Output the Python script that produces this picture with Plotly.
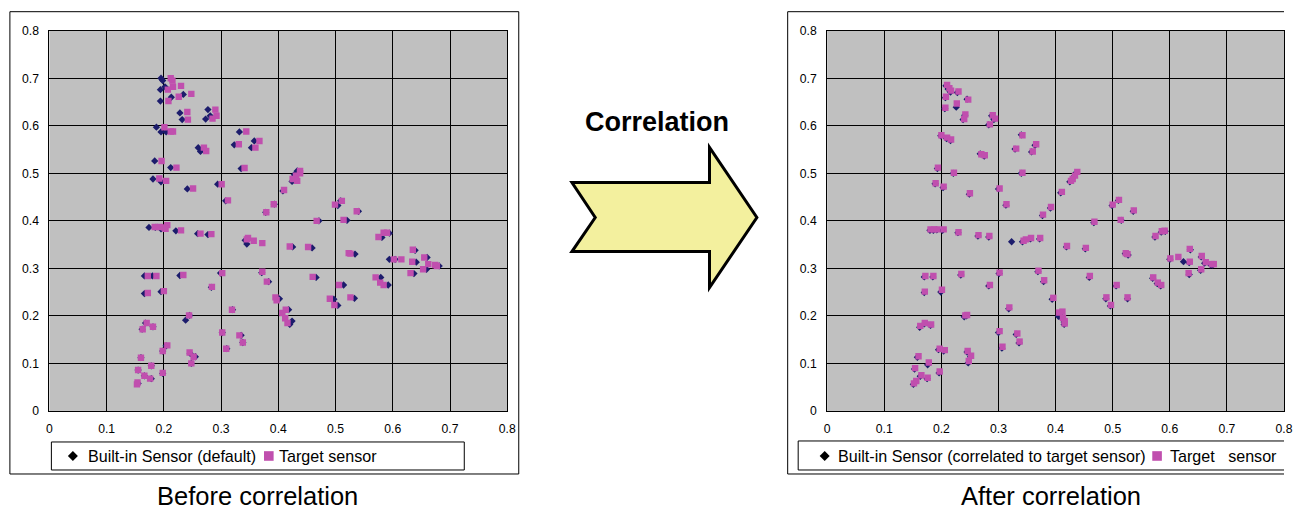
import plotly.graph_objects as go

W, H = 1293, 511

# ---------------- data ----------------
ticks = [0, 0.1, 0.2, 0.3, 0.4, 0.5, 0.6, 0.7, 0.8]
tick_text = ["0", "0.1", "0.2", "0.3", "0.4", "0.5", "0.6", "0.7", "0.8"]

before_target = [
    (0.212,0.700),(0.215,0.695),(0.230,0.684),(0.216,0.682),(0.207,0.676),(0.248,0.667),(0.226,0.661),(0.208,0.652),
    (0.290,0.634),(0.241,0.629),(0.292,0.621),(0.285,0.615),(0.242,0.613),(0.201,0.597),(0.212,0.588),(0.216,0.588),
    (0.344,0.588),(0.367,0.568),(0.331,0.561),(0.360,0.554),(0.270,0.554),(0.274,0.547),(0.196,0.526),(0.341,0.511),
    (0.222,0.512),(0.192,0.489),(0.204,0.484),(0.251,0.468),(0.301,0.477),(0.438,0.505),(0.438,0.500),(0.431,0.495),
    (0.433,0.484),(0.425,0.488),(0.410,0.465),(0.312,0.443),(0.392,0.435),(0.379,0.418),(0.511,0.442),(0.499,0.434),
    (0.537,0.420),(0.467,0.400),(0.514,0.402),(0.184,0.387),(0.193,0.387),(0.201,0.386),(0.206,0.391),(0.203,0.383),
    (0.230,0.380),(0.264,0.373),(0.283,0.372),(0.345,0.361),(0.347,0.364),(0.357,0.358),(0.372,0.353),(0.584,0.375),
    (0.590,0.375),(0.575,0.366),(0.420,0.346),(0.452,0.345),(0.523,0.332),(0.526,0.331),(0.635,0.339),(0.602,0.319),
    (0.615,0.319),(0.655,0.323),(0.634,0.314),(0.662,0.309),(0.674,0.307),(0.677,0.305),(0.653,0.298),(0.631,0.290),
    (0.172,0.284),(0.187,0.284),(0.234,0.286),(0.302,0.290),(0.372,0.293),(0.380,0.272),(0.460,0.282),(0.570,0.281),
    (0.578,0.270),(0.584,0.265),(0.506,0.265),(0.172,0.248),(0.200,0.252),(0.284,0.261),(0.395,0.239),(0.397,0.233),
    (0.490,0.236),(0.526,0.239),(0.498,0.223),(0.319,0.213),(0.413,0.213),(0.407,0.206),(0.412,0.195),(0.416,0.185),
    (0.244,0.201),(0.170,0.185),(0.163,0.172),(0.181,0.177),(0.302,0.165),(0.332,0.159),(0.338,0.144),(0.206,0.138),
    (0.198,0.126),(0.309,0.131),(0.245,0.123),(0.252,0.114),(0.160,0.112),(0.248,0.100),(0.178,0.095),(0.155,0.086),
    (0.198,0.080),(0.166,0.074),(0.176,0.068),(0.154,0.060),(0.153,0.056),
]

before_builtin = [
    (0.195,0.700),(0.198,0.695),(0.202,0.682),(0.194,0.676),(0.234,0.666),(0.213,0.660),(0.194,0.652),(0.228,0.627),
    (0.232,0.613),(0.277,0.634),(0.281,0.621),(0.273,0.614),(0.187,0.597),(0.195,0.587),(0.204,0.587),(0.332,0.587),
    (0.358,0.568),(0.323,0.560),(0.353,0.554),(0.260,0.554),(0.264,0.546),(0.184,0.526),(0.335,0.510),(0.212,0.512),
    (0.181,0.488),(0.195,0.482),(0.241,0.467),(0.294,0.477),(0.433,0.505),(0.428,0.497),(0.424,0.483),(0.408,0.463),
    (0.308,0.442),(0.393,0.435),(0.378,0.418),(0.509,0.442),(0.504,0.432),(0.540,0.420),(0.471,0.400),(0.520,0.401),
    (0.174,0.386),(0.185,0.386),(0.195,0.383),(0.221,0.379),(0.259,0.373),(0.277,0.371),(0.342,0.359),(0.345,0.351),
    (0.581,0.365),(0.594,0.374),(0.425,0.345),(0.459,0.343),(0.534,0.330),(0.639,0.338),(0.594,0.319),(0.604,0.319),
    (0.660,0.323),(0.641,0.313),(0.659,0.298),(0.681,0.305),(0.637,0.289),(0.166,0.284),(0.180,0.284),(0.228,0.285),
    (0.299,0.290),(0.371,0.291),(0.383,0.272),(0.466,0.281),(0.579,0.281),(0.592,0.265),(0.514,0.265),(0.166,0.247),
    (0.195,0.251),(0.283,0.260),(0.402,0.236),(0.497,0.235),(0.533,0.237),(0.504,0.222),(0.320,0.213),(0.418,0.213),
    (0.424,0.189),(0.420,0.182),(0.238,0.191),(0.245,0.201),(0.162,0.172),(0.181,0.177),(0.168,0.185),(0.302,0.165),
    (0.335,0.159),(0.338,0.144),(0.204,0.137),(0.198,0.126),(0.310,0.131),(0.255,0.114),(0.246,0.121),(0.160,0.112),
    (0.248,0.100),(0.178,0.095),(0.155,0.086),(0.198,0.079),(0.166,0.074),(0.178,0.068),(0.155,0.058),
]

after_target = [
    (0.210,0.686),(0.214,0.679),(0.217,0.674),(0.230,0.672),(0.208,0.661),(0.247,0.655),(0.227,0.647),(0.207,0.638),
    (0.242,0.624),(0.240,0.614),(0.290,0.622),(0.294,0.615),(0.285,0.603),(0.200,0.580),(0.210,0.575),(0.217,0.571),
    (0.342,0.580),(0.366,0.561),(0.331,0.552),(0.360,0.546),(0.270,0.540),(0.276,0.538),(0.194,0.512),(0.222,0.501),
    (0.342,0.501),(0.190,0.479),(0.204,0.472),(0.250,0.458),(0.302,0.468),(0.438,0.503),(0.434,0.495),(0.430,0.488),
    (0.427,0.484),(0.411,0.461),(0.314,0.435),(0.392,0.429),(0.378,0.413),(0.511,0.444),(0.500,0.434),(0.537,0.422),
    (0.468,0.398),(0.514,0.402),(0.181,0.382),(0.187,0.382),(0.193,0.382),(0.204,0.382),(0.230,0.376),(0.265,0.370),
    (0.284,0.368),(0.344,0.358),(0.348,0.361),(0.357,0.364),(0.373,0.364),(0.575,0.368),(0.586,0.378),(0.591,0.379),
    (0.420,0.347),(0.453,0.343),(0.523,0.332),(0.526,0.330),(0.635,0.341),(0.601,0.321),(0.615,0.324),(0.656,0.326),
    (0.635,0.314),(0.663,0.313),(0.674,0.309),(0.677,0.309),(0.655,0.298),(0.633,0.290),(0.172,0.284),(0.186,0.284),
    (0.235,0.288),(0.302,0.291),(0.370,0.295),(0.380,0.275),(0.460,0.284),(0.571,0.281),(0.579,0.270),(0.585,0.265),
    (0.507,0.265),(0.171,0.251),(0.201,0.255),(0.285,0.265),(0.396,0.238),(0.489,0.239),(0.526,0.239),(0.497,0.223),
    (0.319,0.218),(0.406,0.207),(0.412,0.209),(0.413,0.196),(0.416,0.189),(0.416,0.184),(0.242,0.201),(0.245,0.202),
    (0.163,0.179),(0.171,0.185),(0.182,0.182),(0.302,0.168),(0.333,0.163),(0.337,0.146),(0.197,0.131),(0.206,0.128),
    (0.307,0.135),(0.246,0.126),(0.252,0.116),(0.160,0.115),(0.248,0.105),(0.178,0.102),(0.154,0.090),(0.197,0.083),
    (0.165,0.075),(0.176,0.070),(0.156,0.063),(0.152,0.058),
]

after_builtin = [
    (0.208,0.684),(0.212,0.677),(0.216,0.671),(0.228,0.670),(0.207,0.659),(0.245,0.656),(0.226,0.639),(0.206,0.636),
    (0.241,0.622),(0.238,0.613),(0.288,0.621),(0.292,0.613),(0.283,0.602),(0.199,0.579),(0.209,0.573),(0.216,0.569),
    (0.340,0.581),(0.364,0.559),(0.329,0.551),(0.358,0.545),(0.268,0.541),(0.275,0.536),(0.193,0.510),(0.221,0.500),
    (0.340,0.500),(0.189,0.478),(0.203,0.470),(0.249,0.456),(0.300,0.467),(0.436,0.501),(0.432,0.493),(0.428,0.486),
    (0.425,0.482),(0.409,0.459),(0.313,0.433),(0.391,0.427),(0.377,0.411),(0.510,0.443),(0.499,0.432),(0.536,0.420),
    (0.467,0.396),(0.515,0.401),(0.180,0.380),(0.186,0.380),(0.192,0.381),(0.202,0.380),(0.229,0.375),(0.264,0.368),
    (0.283,0.366),(0.323,0.356),(0.342,0.356),(0.356,0.362),(0.372,0.362),(0.574,0.366),(0.585,0.376),(0.592,0.378),
    (0.419,0.345),(0.452,0.341),(0.522,0.331),(0.527,0.328),(0.636,0.339),(0.600,0.319),(0.624,0.314),(0.655,0.324),
    (0.634,0.312),(0.661,0.311),(0.672,0.307),(0.675,0.307),(0.654,0.296),(0.634,0.287),(0.170,0.282),(0.185,0.282),
    (0.234,0.286),(0.301,0.289),(0.369,0.293),(0.379,0.272),(0.459,0.281),(0.570,0.279),(0.578,0.268),(0.584,0.263),
    (0.506,0.263),(0.170,0.249),(0.199,0.250),(0.283,0.263),(0.394,0.235),(0.488,0.236),(0.526,0.236),(0.496,0.221),
    (0.318,0.215),(0.405,0.199),(0.410,0.207),(0.412,0.194),(0.415,0.187),(0.415,0.182),(0.240,0.198),(0.244,0.200),
    (0.162,0.176),(0.170,0.183),(0.181,0.180),(0.300,0.165),(0.331,0.161),(0.336,0.143),(0.195,0.129),(0.204,0.126),
    (0.306,0.132),(0.245,0.124),(0.251,0.114),(0.158,0.113),(0.247,0.101),(0.176,0.097),(0.153,0.088),(0.196,0.080),
    (0.163,0.073),(0.175,0.068),(0.155,0.061),(0.151,0.056),
]

NAVY = "#1c1c6c"
MAGENTA = "#c04fae"
GRAY = "#c0c0c0"

# ---------------- geometry: target-picture pixels -> paper ----------------
SX, OX = 0.991, 2.6
SY, OY = 0.972, 6.3

def px(x):
    return min(1.0, max(0.0, ((x - OX) / SX) / W))

def py(y):
    return min(1.0, max(0.0, 1 - ((y - OY) / SY) / H))

fig = go.Figure()

def add_pair(builtin, target, xa, ya):
    fig.add_trace(go.Scatter(
        x=[p[0] for p in builtin], y=[p[1] for p in builtin], mode="markers",
        marker=dict(symbol="diamond", size=5.6, color=NAVY, line=dict(width=0)),
        xaxis=xa, yaxis=ya, showlegend=False, hoverinfo="x+y"))
    fig.add_trace(go.Scatter(
        x=[p[0] for p in target], y=[p[1] for p in target], mode="markers",
        marker=dict(symbol="square", size=6.4, color=MAGENTA, line=dict(width=0)),
        xaxis=xa, yaxis=ya, showlegend=False, hoverinfo="x+y"))

add_pair(before_builtin, before_target, "x", "y")
add_pair(after_builtin, after_target, "x2", "y2")

tickfont = dict(family="Liberation Sans, Arial, sans-serif", size=12.2, color="#000")
axis_common = dict(range=[0, 0.8], tickvals=ticks, ticktext=tick_text, showgrid=True,
                   gridcolor="#000", gridwidth=1, showline=True, linecolor="#000", linewidth=1,
                   mirror=True, zeroline=False, ticks="", tickfont=tickfont, fixedrange=True)

ydom = [py(410), py(30)]
fig.update_layout(
    width=W, height=H, margin=dict(l=0, r=0, t=0, b=0),
    paper_bgcolor="white", plot_bgcolor=GRAY, showlegend=False,
    xaxis=dict(domain=[px(49), px(507)], anchor="y", ticklabelstandoff=6, **axis_common),
    yaxis=dict(domain=ydom, anchor="x", ticklabelstandoff=7, **axis_common),
    xaxis2=dict(domain=[px(827), px(1285)], anchor="y2", ticklabelstandoff=6, **axis_common),
    yaxis2=dict(domain=ydom, anchor="x2", ticklabelstandoff=7, **axis_common),
)

def P(a, b):
    return f"{px(a):.5f},{py(b):.5f}"

shapes = []
# outer chart borders
shapes.append(dict(type="rect", xref="paper", yref="paper", x0=px(9.5), x1=px(518.5), y0=py(473), y1=py(11),
                   line=dict(color="#000", width=1), fillcolor="rgba(0,0,0,0)", layer="below"))
shapes.append(dict(type="path", xref="paper", yref="paper",
                   path=f"M {P(1300, 11)} L {P(787.5, 11)} L {P(787.5, 473)} L {P(1300, 473)}",
                   line=dict(color="#000", width=1), layer="below"))
# legend boxes
shapes.append(dict(type="rect", xref="paper", yref="paper", x0=px(51), x1=px(464), y0=py(469), y1=py(441),
                   line=dict(color="#000", width=1), fillcolor="white"))
shapes.append(dict(type="path", xref="paper", yref="paper",
                   path=f"M {P(1300, 440)} L {P(798, 440)} L {P(798, 469)} L {P(1300, 469)}",
                   line=dict(color="#000", width=1), fillcolor="white"))

# legend markers
def diamond(cx, cy, r):
    return dict(type="path", xref="paper", yref="paper",
                path=f"M {P(cx, cy - r)} L {P(cx + r, cy)} L {P(cx, cy + r)} L {P(cx - r, cy)} Z",
                fillcolor="#000", line=dict(width=0))

def square(cx, cy, r):
    return dict(type="rect", xref="paper", yref="paper", x0=px(cx - r), x1=px(cx + r),
                y0=py(cy + r), y1=py(cy - r), fillcolor=MAGENTA, line=dict(width=0))

shapes += [diamond(72.5, 455, 5), square(268.5, 455, 4.8), diamond(824.5, 455, 5), square(1157, 455, 4.8)]

# arrow
arrow_pts = [(571.7, 181.7), (709.3, 181.7), (709.3, 146.7), (756.7, 216.7), (709.3, 286.7),
             (709.3, 250.7), (571.7, 250.7), (595.0, 216.7)]
path = "M " + " L ".join(P(a, b) for a, b in arrow_pts) + " Z"
shapes.append(dict(type="path", xref="paper", yref="paper", path=path,
                   fillcolor="#f3f09e", line=dict(color="#000", width=3)))
fig.update_layout(shapes=shapes)

font_main = "Liberation Sans, Arial, Helvetica, sans-serif"

def text(x, y, s, size, anchor="left", bold=False):
    return dict(xref="paper", yref="paper", x=px(x), y=py(y), xanchor=anchor, yanchor="middle",
                showarrow=False, font=dict(family=font_main, size=size, color="#000"),
                text=("<b>" + s + "</b>") if bold else s)

ann = [
    text(86, 455, "Built-in Sensor (default)", 16.1),
    text(277, 455, "Target sensor", 16.1),
    text(836, 455, "Built-in Sensor (correlated to target sensor)", 16.1),
    text(1168, 455, "Target&nbsp;&nbsp; sensor", 16.1),
    text(656.5, 121.5, "Correlation", 27, anchor="center", bold=True),
    text(257.5, 494.5, "Before correlation", 25.5, anchor="center"),
    text(1050.5, 494.5, "After correlation", 25.5, anchor="center"),
]
fig.update_layout(annotations=ann)

post = ("document.documentElement.style.margin='0';document.documentElement.style.padding='0';"
        "document.documentElement.style.overflow='hidden';"
        "document.body.style.margin='0';document.body.style.padding='0';document.body.style.overflow='hidden';")
fig.write_html("out.html", config={"displayModeBar": False}, post_script=post)
